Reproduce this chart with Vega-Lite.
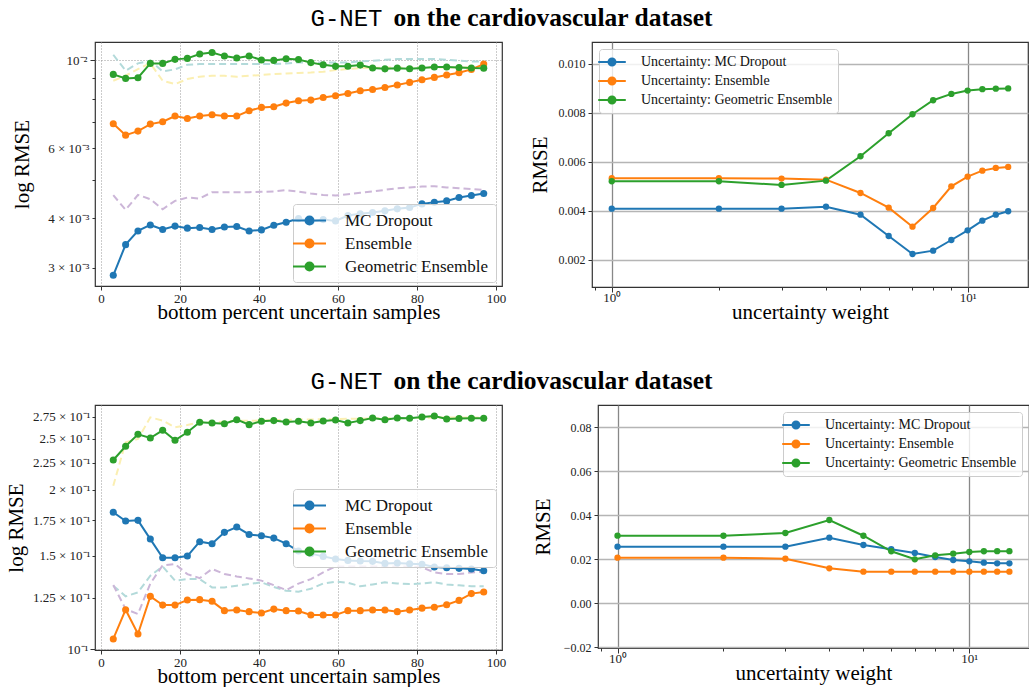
{
"$schema": "https://vega.github.io/schema/vega-lite/v6.json",
"padding": {"left": 4, "top": 5, "right": 0, "bottom": 0},
"background": "white",
"datasets": {
"tl": [
{"x":3.125,"s":"MC Dropout","v":0.002873},{"x":6.25,"s":"MC Dropout","v":0.003431},{"x":9.375,"s":"MC Dropout","v":0.003715},{"x":12.5,"s":"MC Dropout","v":0.003846},{"x":15.625,"s":"MC Dropout","v":0.003746},{"x":18.75,"s":"MC Dropout","v":0.00382},{"x":21.875,"s":"MC Dropout","v":0.003775},{"x":25,"s":"MC Dropout","v":0.00379},{"x":28.125,"s":"MC Dropout","v":0.003746},{"x":31.25,"s":"MC Dropout","v":0.0038},{"x":34.375,"s":"MC Dropout","v":0.00381},{"x":37.5,"s":"MC Dropout","v":0.003715},{"x":40.625,"s":"MC Dropout","v":0.003737},{"x":43.75,"s":"MC Dropout","v":0.003839},{"x":46.875,"s":"MC Dropout","v":0.003908},{"x":50,"s":"MC Dropout","v":0.00399},{"x":53.125,"s":"MC Dropout","v":0.00392},{"x":56.25,"s":"MC Dropout","v":0.003967},{"x":59.375,"s":"MC Dropout","v":0.003937},{"x":62.5,"s":"MC Dropout","v":0.004061},{"x":65.625,"s":"MC Dropout","v":0.004101},{"x":68.75,"s":"MC Dropout","v":0.004133},{"x":71.875,"s":"MC Dropout","v":0.004173},{"x":75,"s":"MC Dropout","v":0.004222},{"x":78.125,"s":"MC Dropout","v":0.004255},{"x":81.25,"s":"MC Dropout","v":0.004345},{"x":84.375,"s":"MC Dropout","v":0.004387},{"x":87.5,"s":"MC Dropout","v":0.004421},{"x":90.625,"s":"MC Dropout","v":0.004508},{"x":93.75,"s":"MC Dropout","v":0.00456},{"x":96.875,"s":"MC Dropout","v":0.004613},
{"x":3.125,"s":"Ensemble","v":0.00691},{"x":6.25,"s":"Ensemble","v":0.006471},{"x":9.375,"s":"Ensemble","v":0.006624},{"x":12.5,"s":"Ensemble","v":0.006898},{"x":15.625,"s":"Ensemble","v":0.006992},{"x":18.75,"s":"Ensemble","v":0.007227},{"x":21.875,"s":"Ensemble","v":0.007125},{"x":25,"s":"Ensemble","v":0.007227},{"x":28.125,"s":"Ensemble","v":0.00728},{"x":31.25,"s":"Ensemble","v":0.007227},{"x":34.375,"s":"Ensemble","v":0.007227},{"x":37.5,"s":"Ensemble","v":0.007451},{"x":40.625,"s":"Ensemble","v":0.0076},{"x":43.75,"s":"Ensemble","v":0.007626},{"x":46.875,"s":"Ensemble","v":0.007791},{"x":50,"s":"Ensemble","v":0.007896},{"x":53.125,"s":"Ensemble","v":0.007927},{"x":56.25,"s":"Ensemble","v":0.00805},{"x":59.375,"s":"Ensemble","v":0.008128},{"x":62.5,"s":"Ensemble","v":0.00824},{"x":65.625,"s":"Ensemble","v":0.00837},{"x":68.75,"s":"Ensemble","v":0.008433},{"x":71.875,"s":"Ensemble","v":0.008532},{"x":75,"s":"Ensemble","v":0.008649},{"x":78.125,"s":"Ensemble","v":0.008784},{"x":81.25,"s":"Ensemble","v":0.00892},{"x":84.375,"s":"Ensemble","v":0.009042},{"x":87.5,"s":"Ensemble","v":0.009165},{"x":90.625,"s":"Ensemble","v":0.00929},{"x":93.75,"s":"Ensemble","v":0.009471},{"x":96.875,"s":"Ensemble","v":0.009768},
{"x":3.125,"s":"Geometric Ensemble","v":0.009201},{"x":6.25,"s":"Geometric Ensemble","v":0.00899},{"x":9.375,"s":"Geometric Ensemble","v":0.009025},{"x":12.5,"s":"Geometric Ensemble","v":0.009806},{"x":15.625,"s":"Geometric Ensemble","v":0.009806},{"x":18.75,"s":"Geometric Ensemble","v":0.010037},{"x":21.875,"s":"Geometric Ensemble","v":0.010095},{"x":25,"s":"Geometric Ensemble","v":0.01035},{"x":28.125,"s":"Geometric Ensemble","v":0.01044},{"x":31.25,"s":"Geometric Ensemble","v":0.01023},{"x":34.375,"s":"Geometric Ensemble","v":0.010115},{"x":37.5,"s":"Geometric Ensemble","v":0.01023},{"x":40.625,"s":"Geometric Ensemble","v":0.01},{"x":43.75,"s":"Geometric Ensemble","v":0.009979},{"x":46.875,"s":"Geometric Ensemble","v":0.010076},{"x":50,"s":"Geometric Ensemble","v":0.01003},{"x":53.125,"s":"Geometric Ensemble","v":0.00985},{"x":56.25,"s":"Geometric Ensemble","v":0.00973},{"x":59.375,"s":"Geometric Ensemble","v":0.00964},{"x":62.5,"s":"Geometric Ensemble","v":0.00965},{"x":65.625,"s":"Geometric Ensemble","v":0.00971},{"x":68.75,"s":"Geometric Ensemble","v":0.00955},{"x":71.875,"s":"Geometric Ensemble","v":0.0095},{"x":75,"s":"Geometric Ensemble","v":0.00954},{"x":78.125,"s":"Geometric Ensemble","v":0.00951},{"x":81.25,"s":"Geometric Ensemble","v":0.00955},{"x":84.375,"s":"Geometric Ensemble","v":0.0096},{"x":87.5,"s":"Geometric Ensemble","v":0.0096},{"x":90.625,"s":"Geometric Ensemble","v":0.00958},{"x":93.75,"s":"Geometric Ensemble","v":0.00955},{"x":96.875,"s":"Geometric Ensemble","v":0.00954}
],
"tl_ref": [
{"x":3.125,"r":"c","v":0.01031},{"x":6.25,"r":"c","v":0.009399},{"x":9.375,"r":"c","v":0.009807},{"x":12.5,"r":"c","v":0.00996},{"x":15.625,"r":"c","v":0.009362},{"x":18.75,"r":"c","v":0.009471},{"x":21.875,"r":"c","v":0.009731},{"x":25,"r":"c","v":0.009769},{"x":28.125,"r":"c","v":0.009769},{"x":31.25,"r":"c","v":0.009769},{"x":34.375,"r":"c","v":0.009769},{"x":37.5,"r":"c","v":0.009769},{"x":40.625,"r":"c","v":0.009769},{"x":43.75,"r":"c","v":0.009769},{"x":46.875,"r":"c","v":0.0098},{"x":50,"r":"c","v":0.009863},{"x":53.125,"r":"c","v":0.009863},{"x":56.25,"r":"c","v":0.009863},{"x":59.375,"r":"c","v":0.009863},{"x":62.5,"r":"c","v":0.009863},{"x":65.625,"r":"c","v":0.00992},{"x":68.75,"r":"c","v":0.00996},{"x":71.875,"r":"c","v":0.01001},{"x":75,"r":"c","v":0.01006},{"x":78.125,"r":"c","v":0.01006},{"x":81.25,"r":"c","v":0.01006},{"x":84.375,"r":"c","v":0.01006},{"x":87.5,"r":"c","v":0.01001},{"x":90.625,"r":"c","v":0.00996},{"x":93.75,"r":"c","v":0.00992},{"x":96.875,"r":"c","v":0.00992},
{"x":3.125,"r":"y","v":0.008869},{"x":6.25,"r":"y","v":0.00913},{"x":9.375,"r":"y","v":0.00949},{"x":12.5,"r":"y","v":0.009807},{"x":15.625,"r":"y","v":0.008869},{"x":18.75,"r":"y","v":0.008698},{"x":21.875,"r":"y","v":0.008955},{"x":25,"r":"y","v":0.009077},{"x":28.125,"r":"y","v":0.00913},{"x":31.25,"r":"y","v":0.00913},{"x":34.375,"r":"y","v":0.009077},{"x":37.5,"r":"y","v":0.00913},{"x":40.625,"r":"y","v":0.009166},{"x":43.75,"r":"y","v":0.009219},{"x":46.875,"r":"y","v":0.00925},{"x":50,"r":"y","v":0.009272},{"x":53.125,"r":"y","v":0.0093},{"x":56.25,"r":"y","v":0.009344},{"x":59.375,"r":"y","v":0.009434},{"x":62.5,"r":"y","v":0.00949},{"x":65.625,"r":"y","v":0.00954},{"x":68.75,"r":"y","v":0.00956},{"x":71.875,"r":"y","v":0.00957},{"x":75,"r":"y","v":0.00958},{"x":78.125,"r":"y","v":0.00958},{"x":81.25,"r":"y","v":0.00958},{"x":84.375,"r":"y","v":0.00958},{"x":87.5,"r":"y","v":0.00958},{"x":90.625,"r":"y","v":0.00958},{"x":93.75,"r":"y","v":0.00958},{"x":96.875,"r":"y","v":0.00958},
{"x":3.125,"r":"p","v":0.004571},{"x":6.25,"r":"p","v":0.004197},{"x":9.375,"r":"p","v":0.004577},{"x":12.5,"r":"p","v":0.004464},{"x":15.625,"r":"p","v":0.004213},{"x":18.75,"r":"p","v":0.004421},{"x":21.875,"r":"p","v":0.004508},{"x":25,"r":"p","v":0.004482},{"x":28.125,"r":"p","v":0.00465},{"x":31.25,"r":"p","v":0.00465},{"x":34.375,"r":"p","v":0.00465},{"x":37.5,"r":"p","v":0.00465},{"x":40.625,"r":"p","v":0.004659},{"x":43.75,"r":"p","v":0.004668},{"x":46.875,"r":"p","v":0.004704},{"x":50,"r":"p","v":0.004668},{"x":53.125,"r":"p","v":0.004613},{"x":56.25,"r":"p","v":0.004577},{"x":59.375,"r":"p","v":0.00456},{"x":62.5,"r":"p","v":0.004596},{"x":65.625,"r":"p","v":0.004632},{"x":68.75,"r":"p","v":0.004668},{"x":71.875,"r":"p","v":0.004713},{"x":75,"r":"p","v":0.004759},{"x":78.125,"r":"p","v":0.004777},{"x":81.25,"r":"p","v":0.004805},{"x":84.375,"r":"p","v":0.004814},{"x":87.5,"r":"p","v":0.004777},{"x":90.625,"r":"p","v":0.004759},{"x":93.75,"r":"p","v":0.004732},{"x":96.875,"r":"p","v":0.004713}
],
"tr": [
{"x":1,"s":"Uncertainty: MC Dropout","v":0.004091},{"x":2,"s":"Uncertainty: MC Dropout","v":0.00409},{"x":3,"s":"Uncertainty: MC Dropout","v":0.00409},{"x":4,"s":"Uncertainty: MC Dropout","v":0.004172},{"x":5,"s":"Uncertainty: MC Dropout","v":0.003846},{"x":6,"s":"Uncertainty: MC Dropout","v":0.002978},{"x":7,"s":"Uncertainty: MC Dropout","v":0.002245},{"x":8,"s":"Uncertainty: MC Dropout","v":0.00238},{"x":9,"s":"Uncertainty: MC Dropout","v":0.002815},{"x":10,"s":"Uncertainty: MC Dropout","v":0.00321},{"x":11,"s":"Uncertainty: MC Dropout","v":0.003602},{"x":12,"s":"Uncertainty: MC Dropout","v":0.003846},{"x":13,"s":"Uncertainty: MC Dropout","v":0.003985},
{"x":1,"s":"Uncertainty: Ensemble","v":0.00533},{"x":2,"s":"Uncertainty: Ensemble","v":0.00533},{"x":3,"s":"Uncertainty: Ensemble","v":0.005315},{"x":4,"s":"Uncertainty: Ensemble","v":0.005273},{"x":5,"s":"Uncertainty: Ensemble","v":0.00473},{"x":6,"s":"Uncertainty: Ensemble","v":0.004131},{"x":7,"s":"Uncertainty: Ensemble","v":0.003357},{"x":8,"s":"Uncertainty: Ensemble","v":0.004119},{"x":9,"s":"Uncertainty: Ensemble","v":0.005},{"x":10,"s":"Uncertainty: Ensemble","v":0.005395},{"x":11,"s":"Uncertainty: Ensemble","v":0.00564},{"x":12,"s":"Uncertainty: Ensemble","v":0.00575},{"x":13,"s":"Uncertainty: Ensemble","v":0.00579},
{"x":1,"s":"Uncertainty: Geometric Ensemble","v":0.005207},{"x":2,"s":"Uncertainty: Geometric Ensemble","v":0.005207},{"x":3,"s":"Uncertainty: Geometric Ensemble","v":0.005057},{"x":4,"s":"Uncertainty: Geometric Ensemble","v":0.005232},{"x":5,"s":"Uncertainty: Geometric Ensemble","v":0.006226},{"x":6,"s":"Uncertainty: Geometric Ensemble","v":0.007164},{"x":7,"s":"Uncertainty: Geometric Ensemble","v":0.007938},{"x":8,"s":"Uncertainty: Geometric Ensemble","v":0.008508},{"x":9,"s":"Uncertainty: Geometric Ensemble","v":0.008765},{"x":10,"s":"Uncertainty: Geometric Ensemble","v":0.0089},{"x":11,"s":"Uncertainty: Geometric Ensemble","v":0.008957},{"x":12,"s":"Uncertainty: Geometric Ensemble","v":0.00898},{"x":13,"s":"Uncertainty: Geometric Ensemble","v":0.00899}
],
"bl": [
{"x":3.125,"s":"MC Dropout","v":0.1814},{"x":6.25,"s":"MC Dropout","v":0.1746},{"x":9.375,"s":"MC Dropout","v":0.1751},{"x":12.5,"s":"MC Dropout","v":0.1614},{"x":15.625,"s":"MC Dropout","v":0.1488},{"x":18.75,"s":"MC Dropout","v":0.1488},{"x":21.875,"s":"MC Dropout","v":0.1499},{"x":25,"s":"MC Dropout","v":0.1596},{"x":28.125,"s":"MC Dropout","v":0.1582},{"x":31.25,"s":"MC Dropout","v":0.1662},{"x":34.375,"s":"MC Dropout","v":0.1701},{"x":37.5,"s":"MC Dropout","v":0.1647},{"x":40.625,"s":"MC Dropout","v":0.1638},{"x":43.75,"s":"MC Dropout","v":0.1621},{"x":46.875,"s":"MC Dropout","v":0.1582},{"x":50,"s":"MC Dropout","v":0.1532},{"x":53.125,"s":"MC Dropout","v":0.1515},{"x":56.25,"s":"MC Dropout","v":0.1497},{"x":59.375,"s":"MC Dropout","v":0.148},{"x":62.5,"s":"MC Dropout","v":0.1471},{"x":65.625,"s":"MC Dropout","v":0.1467},{"x":68.75,"s":"MC Dropout","v":0.1465},{"x":71.875,"s":"MC Dropout","v":0.1452},{"x":75,"s":"MC Dropout","v":0.1454},{"x":78.125,"s":"MC Dropout","v":0.145},{"x":81.25,"s":"MC Dropout","v":0.1446},{"x":84.375,"s":"MC Dropout","v":0.1429},{"x":87.5,"s":"MC Dropout","v":0.1425},{"x":90.625,"s":"MC Dropout","v":0.1421},{"x":93.75,"s":"MC Dropout","v":0.1417},{"x":96.875,"s":"MC Dropout","v":0.1406},
{"x":3.125,"s":"Ensemble","v":0.1045},{"x":6.25,"s":"Ensemble","v":0.1187},{"x":9.375,"s":"Ensemble","v":0.1068},{"x":12.5,"s":"Ensemble","v":0.1258},{"x":15.625,"s":"Ensemble","v":0.1211},{"x":18.75,"s":"Ensemble","v":0.1211},{"x":21.875,"s":"Ensemble","v":0.1238},{"x":25,"s":"Ensemble","v":0.124},{"x":28.125,"s":"Ensemble","v":0.1231},{"x":31.25,"s":"Ensemble","v":0.1182},{"x":34.375,"s":"Ensemble","v":0.1185},{"x":37.5,"s":"Ensemble","v":0.1177},{"x":40.625,"s":"Ensemble","v":0.117},{"x":43.75,"s":"Ensemble","v":0.119},{"x":46.875,"s":"Ensemble","v":0.1182},{"x":50,"s":"Ensemble","v":0.118},{"x":53.125,"s":"Ensemble","v":0.116},{"x":56.25,"s":"Ensemble","v":0.116},{"x":59.375,"s":"Ensemble","v":0.116},{"x":62.5,"s":"Ensemble","v":0.1182},{"x":65.625,"s":"Ensemble","v":0.1182},{"x":68.75,"s":"Ensemble","v":0.1185},{"x":71.875,"s":"Ensemble","v":0.1185},{"x":75,"s":"Ensemble","v":0.1177},{"x":78.125,"s":"Ensemble","v":0.1185},{"x":81.25,"s":"Ensemble","v":0.1195},{"x":84.375,"s":"Ensemble","v":0.12},{"x":87.5,"s":"Ensemble","v":0.1213},{"x":90.625,"s":"Ensemble","v":0.1236},{"x":93.75,"s":"Ensemble","v":0.1273},{"x":96.875,"s":"Ensemble","v":0.1282},
{"x":3.125,"s":"Geometric Ensemble","v":0.2277},{"x":6.25,"s":"Geometric Ensemble","v":0.2417},{"x":9.375,"s":"Geometric Ensemble","v":0.2547},{"x":12.5,"s":"Geometric Ensemble","v":0.2506},{"x":15.625,"s":"Geometric Ensemble","v":0.2591},{"x":18.75,"s":"Geometric Ensemble","v":0.2481},{"x":21.875,"s":"Geometric Ensemble","v":0.2569},{"x":25,"s":"Geometric Ensemble","v":0.2683},{"x":28.125,"s":"Geometric Ensemble","v":0.2675},{"x":31.25,"s":"Geometric Ensemble","v":0.2667},{"x":34.375,"s":"Geometric Ensemble","v":0.2714},{"x":37.5,"s":"Geometric Ensemble","v":0.2656},{"x":40.625,"s":"Geometric Ensemble","v":0.2695},{"x":43.75,"s":"Geometric Ensemble","v":0.2703},{"x":46.875,"s":"Geometric Ensemble","v":0.2687},{"x":50,"s":"Geometric Ensemble","v":0.2695},{"x":53.125,"s":"Geometric Ensemble","v":0.2675},{"x":56.25,"s":"Geometric Ensemble","v":0.2699},{"x":59.375,"s":"Geometric Ensemble","v":0.271},{"x":62.5,"s":"Geometric Ensemble","v":0.2675},{"x":65.625,"s":"Geometric Ensemble","v":0.2703},{"x":68.75,"s":"Geometric Ensemble","v":0.2734},{"x":71.875,"s":"Geometric Ensemble","v":0.2714},{"x":75,"s":"Geometric Ensemble","v":0.2734},{"x":78.125,"s":"Geometric Ensemble","v":0.273},{"x":81.25,"s":"Geometric Ensemble","v":0.2746},{"x":84.375,"s":"Geometric Ensemble","v":0.2758},{"x":87.5,"s":"Geometric Ensemble","v":0.2723},{"x":90.625,"s":"Geometric Ensemble","v":0.2727},{"x":93.75,"s":"Geometric Ensemble","v":0.273},{"x":96.875,"s":"Geometric Ensemble","v":0.273}
],
"bl_ref": [
{"x":3.125,"r":"y","v":0.2036},{"x":6.25,"r":"y","v":0.2459},{"x":9.375,"r":"y","v":0.2495},{"x":12.5,"r":"y","v":0.2742},{"x":15.625,"r":"y","v":0.2703},{"x":18.75,"r":"y","v":0.2625},{"x":21.875,"r":"y","v":0.2652},{"x":25,"r":"y","v":0.2683},{"x":28.125,"r":"y","v":0.2683},{"x":31.25,"r":"y","v":0.269},{"x":34.375,"r":"y","v":0.27},{"x":37.5,"r":"y","v":0.27},{"x":40.625,"r":"y","v":0.2705},{"x":43.75,"r":"y","v":0.271},{"x":46.875,"r":"y","v":0.271},{"x":50,"r":"y","v":0.2715},{"x":53.125,"r":"y","v":0.2715},{"x":56.25,"r":"y","v":0.272},{"x":59.375,"r":"y","v":0.272},{"x":62.5,"r":"y","v":0.2725},{"x":65.625,"r":"y","v":0.2725},{"x":68.75,"r":"y","v":0.273},{"x":71.875,"r":"y","v":0.273},{"x":75,"r":"y","v":0.273},{"x":78.125,"r":"y","v":0.2735},{"x":81.25,"r":"y","v":0.2735},{"x":84.375,"r":"y","v":0.274},{"x":87.5,"r":"y","v":0.274},{"x":90.625,"r":"y","v":0.274},{"x":93.75,"r":"y","v":0.274},{"x":96.875,"r":"y","v":0.274},
{"x":3.125,"r":"c","v":0.1318},{"x":6.25,"r":"c","v":0.1258},{"x":9.375,"r":"c","v":0.128},{"x":12.5,"r":"c","v":0.1376},{"x":15.625,"r":"c","v":0.1433},{"x":18.75,"r":"c","v":0.1347},{"x":21.875,"r":"c","v":0.1356},{"x":25,"r":"c","v":0.1356},{"x":28.125,"r":"c","v":0.1308},{"x":31.25,"r":"c","v":0.1308},{"x":34.375,"r":"c","v":0.1318},{"x":37.5,"r":"c","v":0.1327},{"x":40.625,"r":"c","v":0.1337},{"x":43.75,"r":"c","v":0.131},{"x":46.875,"r":"c","v":0.1289},{"x":50,"r":"c","v":0.1284},{"x":53.125,"r":"c","v":0.13},{"x":56.25,"r":"c","v":0.133},{"x":59.375,"r":"c","v":0.1341},{"x":62.5,"r":"c","v":0.1335},{"x":65.625,"r":"c","v":0.1314},{"x":68.75,"r":"c","v":0.1325},{"x":71.875,"r":"c","v":0.1337},{"x":75,"r":"c","v":0.133},{"x":78.125,"r":"c","v":0.1327},{"x":81.25,"r":"c","v":0.133},{"x":84.375,"r":"c","v":0.1337},{"x":87.5,"r":"c","v":0.1325},{"x":90.625,"r":"c","v":0.132},{"x":93.75,"r":"c","v":0.1314},{"x":96.875,"r":"c","v":0.1314},
{"x":3.125,"r":"p","v":0.1322},{"x":6.25,"r":"p","v":0.119},{"x":9.375,"r":"p","v":0.1165},{"x":12.5,"r":"p","v":0.133},{"x":15.625,"r":"p","v":0.144},{"x":18.75,"r":"p","v":0.1448},{"x":21.875,"r":"p","v":0.1386},{"x":25,"r":"p","v":0.1362},{"x":28.125,"r":"p","v":0.1417},{"x":31.25,"r":"p","v":0.1386},{"x":34.375,"r":"p","v":0.1372},{"x":37.5,"r":"p","v":0.136},{"x":40.625,"r":"p","v":0.1347},{"x":43.75,"r":"p","v":0.1321},{"x":46.875,"r":"p","v":0.1293},{"x":50,"r":"p","v":0.133},{"x":53.125,"r":"p","v":0.1356},{"x":56.25,"r":"p","v":0.1396},{"x":59.375,"r":"p","v":0.1433},{"x":62.5,"r":"p","v":0.1433},{"x":65.625,"r":"p","v":0.1433},{"x":68.75,"r":"p","v":0.1433},{"x":71.875,"r":"p","v":0.1433},{"x":75,"r":"p","v":0.1433},{"x":78.125,"r":"p","v":0.1433},{"x":81.25,"r":"p","v":0.1427},{"x":84.375,"r":"p","v":0.1396},{"x":87.5,"r":"p","v":0.1386},{"x":90.625,"r":"p","v":0.1386},{"x":93.75,"r":"p","v":0.1396},{"x":96.875,"r":"p","v":0.14}
],
"br": [
{"x":1,"s":"Uncertainty: MC Dropout","v":0.02573},{"x":2,"s":"Uncertainty: MC Dropout","v":0.02573},{"x":3,"s":"Uncertainty: MC Dropout","v":0.02573},{"x":4,"s":"Uncertainty: MC Dropout","v":0.02982},{"x":5,"s":"Uncertainty: MC Dropout","v":0.0265},{"x":6,"s":"Uncertainty: MC Dropout","v":0.02455},{"x":7,"s":"Uncertainty: MC Dropout","v":0.02286},{"x":8,"s":"Uncertainty: MC Dropout","v":0.02105},{"x":9,"s":"Uncertainty: MC Dropout","v":0.01968},{"x":10,"s":"Uncertainty: MC Dropout","v":0.01909},{"x":11,"s":"Uncertainty: MC Dropout","v":0.01845},{"x":12,"s":"Uncertainty: MC Dropout","v":0.01818},{"x":13,"s":"Uncertainty: MC Dropout","v":0.01818},
{"x":1,"s":"Uncertainty: Ensemble","v":0.02073},{"x":2,"s":"Uncertainty: Ensemble","v":0.02073},{"x":3,"s":"Uncertainty: Ensemble","v":0.02027},{"x":4,"s":"Uncertainty: Ensemble","v":0.0159},{"x":5,"s":"Uncertainty: Ensemble","v":0.01436},{"x":6,"s":"Uncertainty: Ensemble","v":0.01436},{"x":7,"s":"Uncertainty: Ensemble","v":0.01436},{"x":8,"s":"Uncertainty: Ensemble","v":0.01436},{"x":9,"s":"Uncertainty: Ensemble","v":0.01436},{"x":10,"s":"Uncertainty: Ensemble","v":0.01436},{"x":11,"s":"Uncertainty: Ensemble","v":0.01436},{"x":12,"s":"Uncertainty: Ensemble","v":0.01436},{"x":13,"s":"Uncertainty: Ensemble","v":0.01436},
{"x":1,"s":"Uncertainty: Geometric Ensemble","v":0.03073},{"x":2,"s":"Uncertainty: Geometric Ensemble","v":0.0307},{"x":3,"s":"Uncertainty: Geometric Ensemble","v":0.03195},{"x":4,"s":"Uncertainty: Geometric Ensemble","v":0.03786},{"x":5,"s":"Uncertainty: Geometric Ensemble","v":0.0307},{"x":6,"s":"Uncertainty: Geometric Ensemble","v":0.02364},{"x":7,"s":"Uncertainty: Geometric Ensemble","v":0.02},{"x":8,"s":"Uncertainty: Geometric Ensemble","v":0.02182},{"x":9,"s":"Uncertainty: Geometric Ensemble","v":0.02255},{"x":10,"s":"Uncertainty: Geometric Ensemble","v":0.02332},{"x":11,"s":"Uncertainty: Geometric Ensemble","v":0.02364},{"x":12,"s":"Uncertainty: Geometric Ensemble","v":0.02368},{"x":13,"s":"Uncertainty: Geometric Ensemble","v":0.02368}
]
},
"columns": 1,
"spacing": 45,
"resolve": {"scale": {"x": "independent", "y": "independent", "color": "independent", "stroke": "independent"}, "axis": {"x": "independent", "y": "independent"}, "legend": {"color": "independent", "stroke": "independent"}},
"concat": [
{
"title": {"text": "on the cardiovascular dataset", "font": "Liberation Serif", "fontWeight": "bold", "fontSize": 25.5, "anchor": "middle", "dx": 458, "offset": -24, "color": "#000"},
"resolve": {"scale": {"x": "independent", "y": "independent", "color": "independent", "stroke": "independent"}, "axis": {"x": "independent", "y": "independent"}, "legend": {"color": "independent", "stroke": "independent"}},
"vconcat": [
{
"title": {"text": "G-NET", "font": "Liberation Mono", "fontWeight": "normal", "fontSize": 24, "anchor": "middle", "dx": 251.5, "offset": 10, "color": "#000"},
"spacing": 21,
"resolve": {"scale": {"x": "independent", "y": "independent", "color": "independent", "stroke": "independent"}, "axis": {"x": "independent", "y": "independent"}, "legend": {"color": "independent", "stroke": "independent"}},
"hconcat": [
{
"width": 407, "height": 244,
"layer": [
{"data": {"name": "tl_ref"},
 "mark": {"type": "line", "strokeDash": [7, 4], "strokeWidth": 2, "clip": true},
 "encoding": {
  "x": {"field": "x", "type": "quantitative", "scale": {"domain": [-1.5, 101.5], "nice": false, "zero": false},
        "axis": {"values": [0, 20, 40, 60, 80, 100], "title": "bottom percent uncertain samples", "grid": true, "gridDash": [1, 2], "gridColor": "#999999", "tickSize": 4, "labelPadding": 2, "labelFontSize": 13, "titleFontSize": 21, "titlePadding": -4}},
  "y": {"field": "v", "type": "quantitative", "scale": {"type": "log", "domain": [0.0027, 0.0111], "nice": false},
        "axis": {"values": [0.003, 0.004, 0.005, 0.006, 0.007, 0.008, 0.009, 0.01], "title": "log RMSE",
                 "labelExpr": "datum.value == 0.01 ? '10⁻²' : (datum.value == 0.003 ? '3 × 10⁻³' : (datum.value == 0.004 ? '4 × 10⁻³' : (datum.value == 0.006 ? '6 × 10⁻³' : '')))",
                 "grid": true, "gridDash": [1, 2], "gridColor": "#999999",
                 "gridOpacity": {"condition": {"test": "datum.value == 0.01", "value": 1}, "value": 0},
                 "tickSize": {"condition": {"test": "datum.value == 0.01", "value": 5}, "value": 3},
                 "labelPadding": 3, "labelFontSize": 13, "titleFontSize": 21, "titlePadding": 15, "minExtent": 48, "maxExtent": 48}},
  "stroke": {"field": "r", "type": "nominal", "scale": {"domain": ["c", "y", "p"], "range": ["#b3dada", "#fbefb2", "#ccb6d8"]}, "legend": null}
 }},
{"data": {"name": "tl"},
 "mark": {"type": "line", "strokeWidth": 2, "point": {"filled": true, "size": 50, "opacity": 1}},
 "encoding": {
  "x": {"field": "x", "type": "quantitative"},
  "y": {"field": "v", "type": "quantitative"},
  "color": {"field": "s", "type": "nominal", "scale": {"domain": ["MC Dropout", "Ensemble", "Geometric Ensemble"], "range": ["#1f77b4", "#ff7f0e", "#2ca02c"]},
            "legend": {"title": null, "orient": "none", "legendX": 198, "legendY": 162, "symbolType": "M-2,0L2,0M0.485,0A0.485,0.485,0,1,1,-0.485,0A0.485,0.485,0,1,1,0.485,0Z", "symbolSize": 272, "symbolStrokeWidth": 2, "labelFontSize": 17, "labelLimit": 400, "labelOffset": 26, "padding": 7, "rowPadding": 5, "fillColor": "rgba(255,255,255,0.8)", "strokeColor": "#cccccc", "cornerRadius": 3}}
 }}
]
},
{
"width": 436, "height": 245,
"data": {"name": "tr"},
"mark": {"type": "line", "strokeWidth": 2, "point": {"filled": true, "size": 40, "opacity": 1}},
"encoding": {
 "x": {"field": "x", "type": "quantitative", "scale": {"type": "log", "domain": [0.88, 14.78], "nice": false},
       "axis": {"values": [0.9, 1, 2, 3, 4, 5, 6, 7, 8, 9, 10], "title": "uncertainty weight",
                "labelExpr": "datum.value == 1 ? '10⁰' : (datum.value == 10 ? '10¹' : '')",
                "grid": true, "gridColor": "#888888", "gridWidth": 1.3,
                "gridOpacity": {"condition": {"test": "datum.value == 1 || datum.value == 10", "value": 1}, "value": 0},
                "tickSize": {"condition": {"test": "datum.value == 1 || datum.value == 10", "value": 5}, "value": 3},
                "labelPadding": -1, "labelFontSize": 13, "titleFontSize": 21, "titlePadding": -3}},
 "y": {"field": "v", "type": "quantitative", "scale": {"domain": [0.0009, 0.01088], "nice": false, "zero": false},
       "axis": {"values": [0.002, 0.004, 0.006, 0.008, 0.01], "format": ".3f", "title": "RMSE", "grid": true, "gridColor": "#b5b5b5", "gridWidth": 1.5, "tickSize": 4, "labelPadding": 3, "labelFontSize": 12, "titleFontSize": 21, "titlePadding": 8, "minExtent": 34, "maxExtent": 34}},
 "color": {"field": "s", "type": "nominal", "scale": {"domain": ["Uncertainty: MC Dropout", "Uncertainty: Ensemble", "Uncertainty: Geometric Ensemble"], "range": ["#1f77b4", "#ff7f0e", "#2ca02c"]},
           "legend": {"title": null, "orient": "none", "legendX": 7, "legendY": 7, "symbolType": "M-2,0L2,0M0.507,0A0.507,0.507,0,1,1,-0.507,0A0.507,0.507,0,1,1,0.507,0Z", "symbolSize": 190, "symbolStrokeWidth": 2, "labelFontSize": 14, "labelLimit": 400, "labelOffset": 21, "padding": 5, "rowPadding": 3, "fillColor": "rgba(255,255,255,0.8)", "strokeColor": "#cccccc", "cornerRadius": 3}}
}
}
]
}
]
},
{
"title": {"text": "on the cardiovascular dataset", "font": "Liberation Serif", "fontWeight": "bold", "fontSize": 25.5, "anchor": "middle", "dx": 458, "offset": -24, "color": "#000"},
"resolve": {"scale": {"x": "independent", "y": "independent", "color": "independent", "stroke": "independent"}, "axis": {"x": "independent", "y": "independent"}, "legend": {"color": "independent", "stroke": "independent"}},
"vconcat": [
{
"title": {"text": "G-NET", "font": "Liberation Mono", "fontWeight": "normal", "fontSize": 24, "anchor": "middle", "dx": 251.5, "offset": 10, "color": "#000"},
"spacing": 24,
"resolve": {"scale": {"x": "independent", "y": "independent", "color": "independent", "stroke": "independent"}, "axis": {"x": "independent", "y": "independent"}, "legend": {"color": "independent", "stroke": "independent"}},
"hconcat": [
{
"width": 407, "height": 245,
"layer": [
{"data": {"name": "bl_ref"},
 "mark": {"type": "line", "strokeDash": [7, 4], "strokeWidth": 2, "clip": true},
 "encoding": {
  "x": {"field": "x", "type": "quantitative", "scale": {"domain": [-1.5, 101.5], "nice": false, "zero": false},
        "axis": {"values": [0, 20, 40, 60, 80, 100], "title": "bottom percent uncertain samples", "grid": true, "gridDash": [1, 2], "gridColor": "#999999", "tickSize": 4, "labelPadding": 2, "labelFontSize": 13, "titleFontSize": 21, "titlePadding": -4}},
  "y": {"field": "v", "type": "quantitative", "scale": {"type": "log", "domain": [0.0996, 0.2893], "nice": false},
        "axis": {"values": [0.1, 0.125, 0.15, 0.175, 0.2, 0.225, 0.25, 0.275], "title": "log RMSE",
                 "labelExpr": "datum.value == 0.1 ? '10⁻¹' : format(datum.value * 10, '.3~g') + ' × 10⁻¹'",
                 "grid": true, "gridDash": [1, 2], "gridColor": "#999999",
                 "gridOpacity": {"condition": {"test": "datum.value == 0.1", "value": 1}, "value": 0},
                 "tickSize": {"condition": {"test": "datum.value == 0.1", "value": 5}, "value": 3},
                 "labelPadding": 2, "labelFontSize": 13, "titleFontSize": 21, "titlePadding": 6, "minExtent": 63, "maxExtent": 63}},
  "stroke": {"field": "r", "type": "nominal", "scale": {"domain": ["c", "y", "p"], "range": ["#b3dada", "#fbefb2", "#ccb6d8"]}, "legend": null}
 }},
{"data": {"name": "bl"},
 "mark": {"type": "line", "strokeWidth": 2, "point": {"filled": true, "size": 50, "opacity": 1}},
 "encoding": {
  "x": {"field": "x", "type": "quantitative"},
  "y": {"field": "v", "type": "quantitative"},
  "color": {"field": "s", "type": "nominal", "scale": {"domain": ["MC Dropout", "Ensemble", "Geometric Ensemble"], "range": ["#1f77b4", "#ff7f0e", "#2ca02c"]},
            "legend": {"title": null, "orient": "none", "legendX": 198, "legendY": 84, "symbolType": "M-2,0L2,0M0.485,0A0.485,0.485,0,1,1,-0.485,0A0.485,0.485,0,1,1,0.485,0Z", "symbolSize": 272, "symbolStrokeWidth": 2, "labelFontSize": 17, "labelLimit": 400, "labelOffset": 26, "padding": 7, "rowPadding": 5, "fillColor": "rgba(255,255,255,0.8)", "strokeColor": "#cccccc", "cornerRadius": 3}}
 }}
]
},
{
"width": 431, "height": 243,
"data": {"name": "br"},
"mark": {"type": "line", "strokeWidth": 2, "point": {"filled": true, "size": 40, "opacity": 1}},
"encoding": {
 "x": {"field": "x", "type": "quantitative", "scale": {"type": "log", "domain": [0.88, 14.78], "nice": false},
       "axis": {"values": [0.9, 1, 2, 3, 4, 5, 6, 7, 8, 9, 10], "title": "uncertainty weight",
                "labelExpr": "datum.value == 1 ? '10⁰' : (datum.value == 10 ? '10¹' : '')",
                "grid": true, "gridColor": "#888888", "gridWidth": 1.3,
                "gridOpacity": {"condition": {"test": "datum.value == 1 || datum.value == 10", "value": 1}, "value": 0},
                "tickSize": {"condition": {"test": "datum.value == 1 || datum.value == 10", "value": 5}, "value": 3},
                "labelPadding": -1, "labelFontSize": 13, "titleFontSize": 21, "titlePadding": -3}},
 "y": {"field": "v", "type": "quantitative", "scale": {"domain": [-0.0203, 0.0901], "nice": false, "zero": false},
       "axis": {"values": [-0.02, 0, 0.02, 0.04, 0.06, 0.08], "labelExpr": "replace(format(datum.value, '.2f'), '-', '−')", "title": "RMSE", "grid": true, "gridColor": "#b5b5b5", "gridWidth": 1.5, "tickSize": 4, "labelPadding": 3, "labelFontSize": 12, "titleFontSize": 21, "titlePadding": 7, "minExtent": 38, "maxExtent": 38}},
 "color": {"field": "s", "type": "nominal", "scale": {"domain": ["Uncertainty: MC Dropout", "Uncertainty: Ensemble", "Uncertainty: Geometric Ensemble"], "range": ["#1f77b4", "#ff7f0e", "#2ca02c"]},
           "legend": {"title": null, "orient": "none", "legendX": 185, "legendY": 7, "symbolType": "M-2,0L2,0M0.507,0A0.507,0.507,0,1,1,-0.507,0A0.507,0.507,0,1,1,0.507,0Z", "symbolSize": 190, "symbolStrokeWidth": 2, "labelFontSize": 14, "labelLimit": 400, "labelOffset": 21, "padding": 5, "rowPadding": 3, "fillColor": "rgba(255,255,255,0.8)", "strokeColor": "#cccccc", "cornerRadius": 3}}
}
}
]
}
]
}
],
"config": {
 "font": "Liberation Serif",
 "view": {"stroke": "#333333", "strokeWidth": 1.2},
 "axis": {"labelFont": "Liberation Serif", "titleFont": "Liberation Serif", "labelColor": "#222222", "titleColor": "#000000", "titleFontWeight": "normal", "tickColor": "#333333", "domain": false, "labelFlush": false, "labelOverlap": false, "labelBound": false},
 "legend": {"labelFont": "Liberation Serif", "labelColor": "#111111"},
 "title": {"anchor": "middle", "frame": "group"}
}
}
